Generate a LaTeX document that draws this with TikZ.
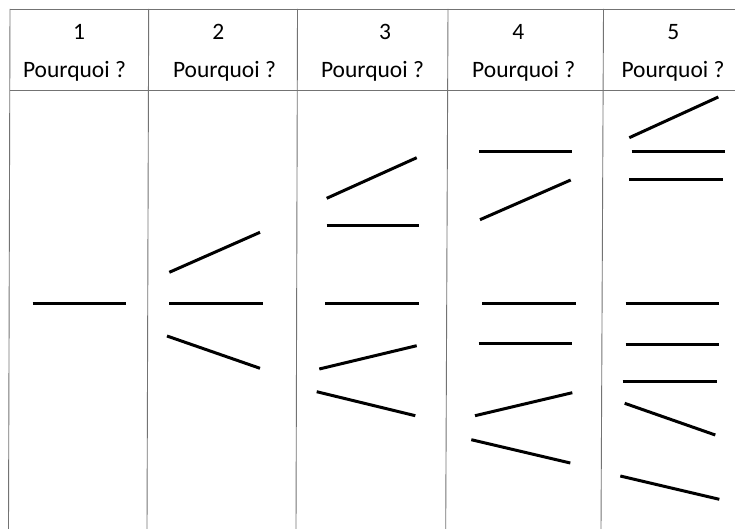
\documentclass[tikz,border=0pt]{standalone}
\usepackage{fontspec}
\setmainfont{Carlito}
\begin{document}
\begin{tikzpicture}[x=1pt,y=-1pt,
  grid/.style={draw=black!55,line width=0.9pt},
  bar/.style={draw=black,line width=3pt},
  hdr/.style={anchor=base,inner sep=0pt,font=\fontsize{23.5}{28}\selectfont}]
\useasboundingbox (0,0) rectangle (735,529);
% table
\draw[grid] (10,9) -- (735,9);
\draw[grid] (10,90) -- (735,90);
\draw[grid] (10,9) -- (8.5,529);
\draw[grid] (148.7,9) -- (147,529);
\draw[grid] (297.5,9) -- (296,529);
\draw[grid] (448,9) -- (445.7,529);
\draw[grid] (603.5,9) -- (601,529);
% headers
\node[hdr] (n1) at (79,39.5) {1};
\node[hdr] (p1) at (74.5,77.3) {Pourquoi ?};
\node[hdr] (n2) at (218.3,39.5) {2};
\node[hdr] (p2) at (224.5,77.3) {Pourquoi ?};
\node[hdr] (n3) at (385,39.5) {3};
\node[hdr] (p3) at (372.5,77.3) {Pourquoi ?};
\node[hdr] (n4) at (518.3,39.5) {4};
\node[hdr] (p4) at (523.7,77.3) {Pourquoi ?};
\node[hdr] (n5) at (673.3,39.5) {5};
\node[hdr] (p5) at (673,77.3) {Pourquoi ?};
% column 1
\draw[bar] (32.7,303.3) -- (126,303.3);
% column 2
\draw[bar] (169.3,272.3) -- (260,232.3);
\draw[bar] (169.3,303.3) -- (263,303.3);
\draw[bar] (167,336) -- (260,368.3);
% column 3
\draw[bar] (326.7,198.3) -- (416.7,157.7);
\draw[bar] (326.7,225) -- (418.7,225);
\draw[bar] (325.3,303) -- (418.7,303);
\draw[bar] (319.3,369) -- (416.7,345.7);
\draw[bar] (316.7,391.7) -- (415.3,415.7);
% column 4
\draw[bar] (479,151.7) -- (572.3,151.7);
\draw[bar] (480,219.7) -- (570.7,180);
\draw[bar] (482,303) -- (575.7,303);
\draw[bar] (478.7,343.7) -- (572.3,343.7);
\draw[bar] (475,415.7) -- (572.3,392.7);
\draw[bar] (471.3,439.7) -- (570.3,463);
% column 5
\draw[bar] (629.3,137.7) -- (718.3,97);
\draw[bar] (631.7,151.7) -- (725,151.7);
\draw[bar] (629,180) -- (722.7,180);
\draw[bar] (625.7,303) -- (719.3,303);
\draw[bar] (625.7,344.3) -- (719.3,344.3);
\draw[bar] (622.7,381.7) -- (716.7,381.7);
\draw[bar] (624.7,403.3) -- (715.3,435);
\draw[bar] (620.3,476) -- (719.3,499.3);
\end{tikzpicture}
\end{document}
